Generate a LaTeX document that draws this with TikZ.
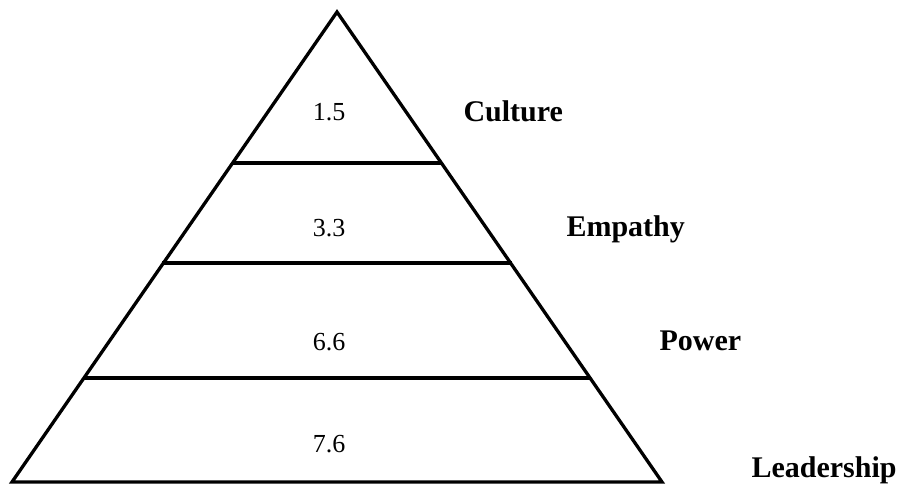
\documentclass[tikz,border=0pt]{standalone}
\usepackage{fontspec}
\setmainfont{Liberation Serif}
\begin{document}
\begin{tikzpicture}[x=1pt,y=-1pt,
  edge/.style={line width=3.3pt,line join=miter},
  band/.style={line width=3.8pt},
  num/.style={font=\fontsize{26}{30}\selectfont,anchor=base},
  lab/.style={font=\fontsize{30}{34}\bfseries\selectfont,anchor=base west}]
\useasboundingbox (0,0) rectangle (900,484);
\coordinate (A) at (337,12);
\coordinate (L) at (12,482);
\coordinate (R) at (662,482);
\draw[edge] (A) -- (L) -- (R) -- cycle;
\coordinate (l1) at (232,163); \coordinate (r1) at (442,163);
\coordinate (l2) at (162,263); \coordinate (r2) at (512,263);
\coordinate (l3) at (83,378);  \coordinate (r3) at (591,378);
\draw[band] (l1) -- (r1);
\draw[band] (l2) -- (r2);
\draw[band] (l3) -- (r3);
\node[num] (n1) at (329,121) {1.5};
\node[num] (n2) at (329,236) {3.3};
\node[num] (n3) at (329,350) {6.6};
\node[num] (n4) at (329,452) {7.6};
\node[lab] (c) at (460,122) {Culture};
\node[lab] (e) at (563,236) {Empathy};
\node[lab] (p) at (656,350) {Power};
\node[lab] (d) at (748,477) {Leadership};
\end{tikzpicture}
\end{document}
